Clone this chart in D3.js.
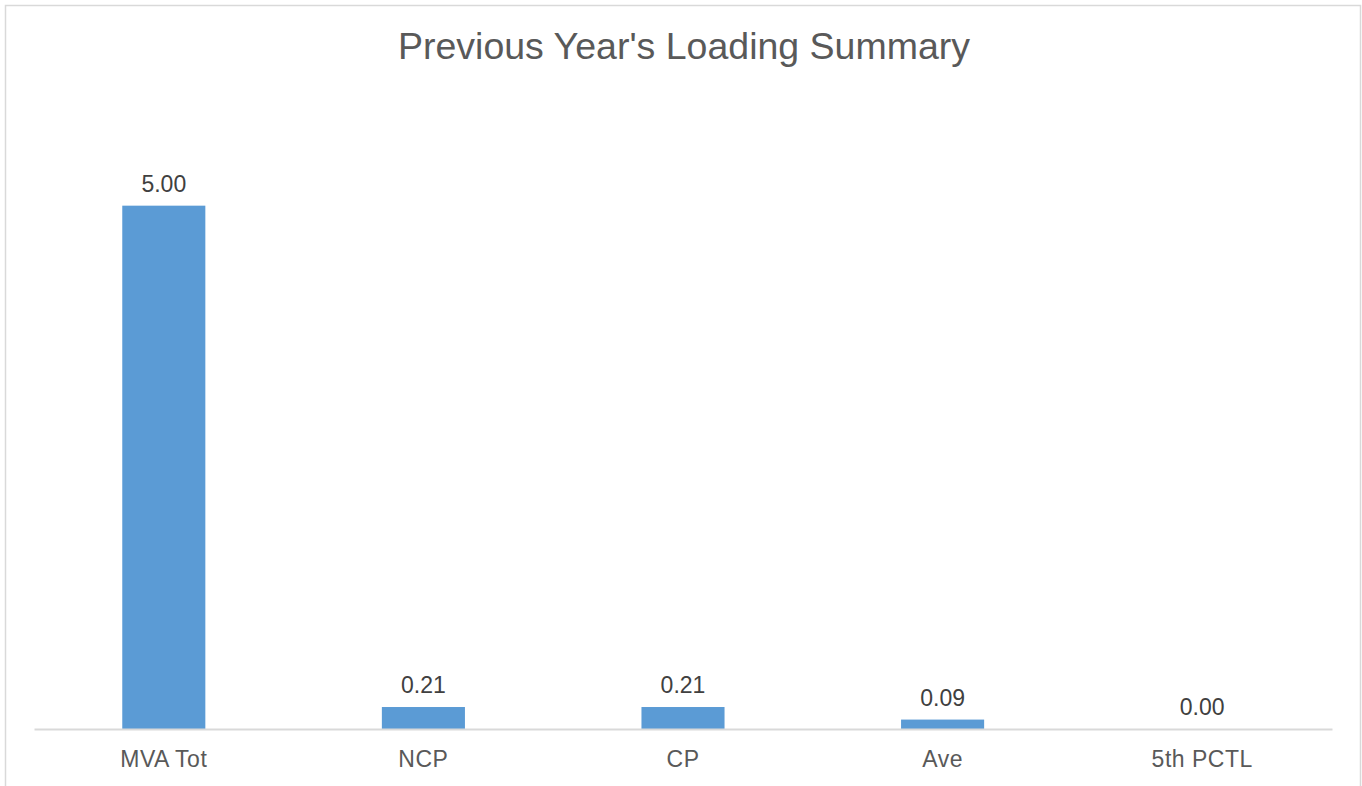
<!DOCTYPE html>
<html>
<head>
<meta charset="utf-8">
<script src="https://cdn.jsdelivr.net/npm/d3@7"></script>
<style>
  body { margin: 0; background: #fff; }
  text { font-family: "Liberation Sans", Arial, sans-serif; }
</style>
</head>
<body>
<div id="chart"></div>
<script>
// data
var categories = ["MVA Tot", "NCP", "CP", "Ave", "5th PCTL"];
var values = [5.00, 0.21, 0.21, 0.09, 0.00];
var labels = ["5.00", "0.21", "0.21", "0.09", "0.00"];
var title = "Previous Year's Loading Summary";

var W = 1362, H = 786;
var margin = {top: 101, right: 30, bottom: 57, left: 34};

var svg = d3.select("#chart").append("svg")
  .attr("width", W)
  .attr("height", H);

// chart frame
svg.append("rect")
  .attr("x", 5.5).attr("y", 5.5)
  .attr("width", 1355).attr("height", 800)
  .attr("fill", "#fff")
  .attr("stroke", "#d9d9d9")
  .attr("stroke-width", 1.5);

var x = d3.scaleBand()
  .domain(categories)
  .range([margin.left, W - margin.right])
  .paddingInner(0.68)
  .paddingOuter(0.34);

var y = d3.scaleLinear()
  .domain([0, 6])
  .range([H - margin.bottom, margin.top]);

// bars
svg.selectAll("rect.bar")
  .data(values)
  .enter()
  .append("rect")
  .attr("class", "bar")
  .attr("x", function(d, i) { return x(categories[i]); })
  .attr("width", x.bandwidth())
  .attr("y", function(d) { return y(d); })
  .attr("height", function(d) { return y(0) - y(d); })
  .attr("fill", "#5b9bd5");

// data labels
svg.selectAll("text.lbl")
  .data(values)
  .enter()
  .append("text")
  .attr("class", "lbl")
  .attr("x", function(d, i) { return x(categories[i]) + x.bandwidth() / 2; })
  .attr("y", function(d) { return y(d) - 14; })
  .attr("text-anchor", "middle")
  .attr("fill", "#404040")
  .style("font-size", "23px")
  .text(function(d, i) { return labels[i]; });

// x axis
var xAxis = svg.append("g")
  .attr("transform", "translate(0," + y(0) + ")")
  .call(d3.axisBottom(x).tickSize(0).tickPadding(22));
xAxis.select(".domain").attr("stroke", "#d9d9d9").attr("stroke-width", 2);
xAxis.selectAll("text")
  .attr("fill", "#595959")
  .style("font-size", "23px")
  .style("letter-spacing", "0.5px")
  .style("font-family", "'Liberation Sans', Arial, sans-serif");

// title
svg.append("text")
  .attr("x", (x.range()[0] + x.range()[1]) / 2 + 1)
  .attr("y", 59)
  .attr("text-anchor", "middle")
  .attr("fill", "#595959")
  .style("font-size", "37.5px")
  .text(title);
</script>
</body>
</html>
